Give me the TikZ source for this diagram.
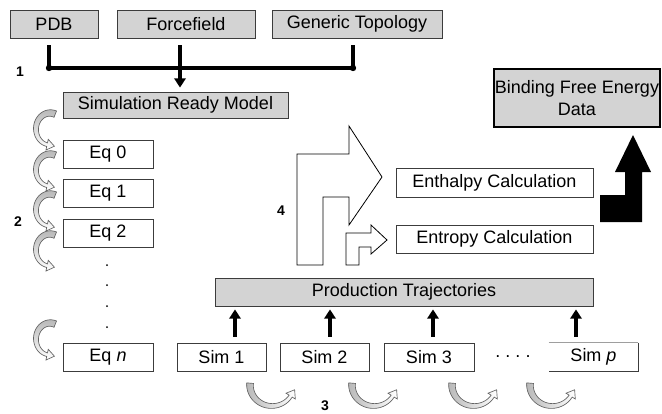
\documentclass[tikz,border=0pt]{standalone}
\usepackage{fontspec}
\setmainfont{Liberation Sans}
\usetikzlibrary{arrows.meta,calc}
\definecolor{boxgray}{RGB}{211,211,211}
\definecolor{edge}{RGB}{60,60,60}
\tikzset{
  box/.style={draw=edge, line width=0.6pt, inner sep=0pt, align=center,
              font=\fontsize{13.5}{16.5}\selectfont},
  gbox/.style={box, fill=boxgray},
  sz/.style 2 args={minimum width=#1*0.75pt, minimum height=#2*0.75pt},
  lbl/.style={font=\fontsize{10.5}{12}\selectfont\bfseries, inner sep=0pt},
  brk/.style={line width=2.6pt},
  uparr/.style={line width=3pt, -{Triangle[width=8.5pt,length=7pt]}},
  hollow/.style={draw=black, line width=0.6pt, fill=white}}
% tapered curved block arrow:
% #1 cx, #2 cy, #3 rx, #4 ry, #5 start angle, #6 end angle (decreasing), #7 shading
\newcommand\cArrow[7]{%
  \path[draw=edge!80, line width=0.5pt, #7]
    plot[domain=#5:#6, samples=50] ({#1+(#3+3.4-1.6*(\x-(#5))/((#6)-(#5)))*cos(\x)},
                                    {#2+(#4+3.4-1.6*(\x-(#5))/((#6)-(#5)))*sin(\x)})
    -- ({#1+(#3+5.5)*cos(#6)},{#2+(#4+5.5)*sin(#6)})
    -- ({#1+#3*cos(#6)+7.5*cos(#6-90)},{#2+#4*sin(#6)+7.5*sin(#6-90)})
    -- ({#1+(#3-5.5)*cos(#6)},{#2+(#4-5.5)*sin(#6)})
    -- plot[domain=#6:#5, samples=50] ({#1+(#3-3.4+1.6*(\x-(#5))/((#6)-(#5)))*cos(\x)},
                                        {#2+(#4-3.4+1.6*(\x-(#5))/((#6)-(#5)))*sin(\x)})
    -- cycle;}
\begin{document}
\begin{tikzpicture}[x=0.75pt,y=-0.75pt]
\useasboundingbox (0,0) rectangle (662,414);

% top row
\node[gbox, sz={88}{28}]  (pdb) at (54,24)  {PDB};
\node[gbox, sz={138}{28}] (ff)  at (186,24) {Forcefield};
\node[gbox, sz={170}{28}] (gt)  at (357,24) {Generic Topology};
\node[gbox, sz={225}{26}] (srm) at (175.5,105) {Simulation Ready Model};

% bracket
\coordinate (bl) at (49,68);
\coordinate (br) at (353,68);
\draw[brk] ($(pdb.south)+(-5,7)$) -- (bl) -- (br);
\draw[brk] ($(gt.south)+(-4,7)$) -- (br);
\draw[brk, -{Triangle[width=8.5pt,length=7pt]}] ($(ff.south)+(-6,7)$) -- ($(ff.south |- srm.north)+(-6,-4)$);
\fill (bl) circle (3.2);
\fill (br) circle (3.2);
\node[lbl] (n1) at (20,72) {1};

% equilibration column
\node[box, sz={90}{28}] (eq0) at (108,154) {Eq 0};
\node[box, sz={90}{28}] (eq1) at (108,193) {Eq 1};
\node[box, sz={90}{28}] (eq2) at (108,233) {Eq 2};
\node[box, sz={90}{28}] (eqn) at (108,357) {Eq \textit{n}};
\foreach \yy in {265,285,306,327} \fill (107,\yy) circle (1);
\node[lbl] (n2) at (18,222) {2};

\cArrow{50}{129}{14}{16}{-68}{-258}{top color=gray!55, bottom color=white}
\cArrow{50}{170}{14}{16}{-68}{-258}{top color=gray!55, bottom color=white}
\cArrow{50}{210}{14}{16}{-68}{-258}{top color=gray!55, bottom color=white}
\cArrow{50}{250}{14}{16}{-68}{-258}{top color=gray!55, bottom color=white}
\cArrow{50}{339}{14}{16}{-68}{-258}{top color=gray!55, bottom color=white}

% production
\node[gbox, sz={378}{28}] (prod) at (404,292) {Production Trajectories};
\node[box, sz={89}{28}] (s1) at (221.5,357) {Sim 1};
\node[box, sz={89}{28}] (s2) at (324.5,357) {Sim 2};
\node[box, sz={90}{28}] (s3) at (429,357) {Sim 3};
\node[box, draw=none, sz={89}{28}] (sp) at (593.5,357) {Sim \textit{p}};
\draw[edge!50, line width=0.6pt] (sp.north west) -- (sp.north east);
\draw[edge, line width=0.6pt] (sp.north east) -- (sp.south east) -- (sp.south west);
\node[font=\fontsize{13.5}{16}\selectfont, inner sep=0pt] (dd) at (513,357) {.\ .\ .\ .};

\draw[uparr] ($(s1.north)+(13.5,-6)$) -- ($(s1.north |- prod.south)+(13.5,3)$);
\draw[uparr] ($(s2.north)+(5.5,-6)$)  -- ($(s2.north |- prod.south)+(5.5,3)$);
\draw[uparr] ($(s3.north)+(4,-6)$)    -- ($(s3.north |- prod.south)+(4,3)$);
\draw[uparr] ($(sp.north)+(-17.5,-6)$) -- ($(sp.north |- prod.south)+(-17.5,3)$);

\cArrow{272}{385}{22}{21}{185}{32}{left color=gray!55, right color=white}
\cArrow{374}{385}{22}{21}{185}{32}{left color=gray!55, right color=white}
\cArrow{474}{385}{22}{21}{185}{32}{left color=gray!55, right color=white}
\cArrow{552}{385}{22}{21}{185}{32}{left color=gray!55, right color=white}
\node[lbl] (n3) at (325,406) {3};

% analysis
\node[box, sz={197}{29}] (enth) at (494.5,182.5) {Enthalpy Calculation};
\node[box, sz={197}{28}] (entr) at (494.5,239) {Entropy Calculation};
\draw[hollow] (297,265) -- (297,154) -- (349,154) -- (349,126) -- (382,177)
   -- (349,225) -- (349,197) -- (323,197) -- (323,265) -- cycle;
\draw[hollow] (346,265) -- (346,233) -- (371,233) -- (371,225) -- (387,240)
   -- (371,254) -- (371,247) -- (359,247) -- (359,265) -- cycle;
\node[lbl] (n4) at (281,211) {4};

\node[gbox, draw=black, line width=1.6pt, sz={166}{58}] (bfe) at (577,98) {Binding Free Energy\\Data};
\fill (600,222) -- (642,222) -- (642,172) -- (651,172) -- (633,135) -- (615,172)
   -- (625,172) -- (625,195) -- (600,195) -- cycle;
\end{tikzpicture}
\end{document}
